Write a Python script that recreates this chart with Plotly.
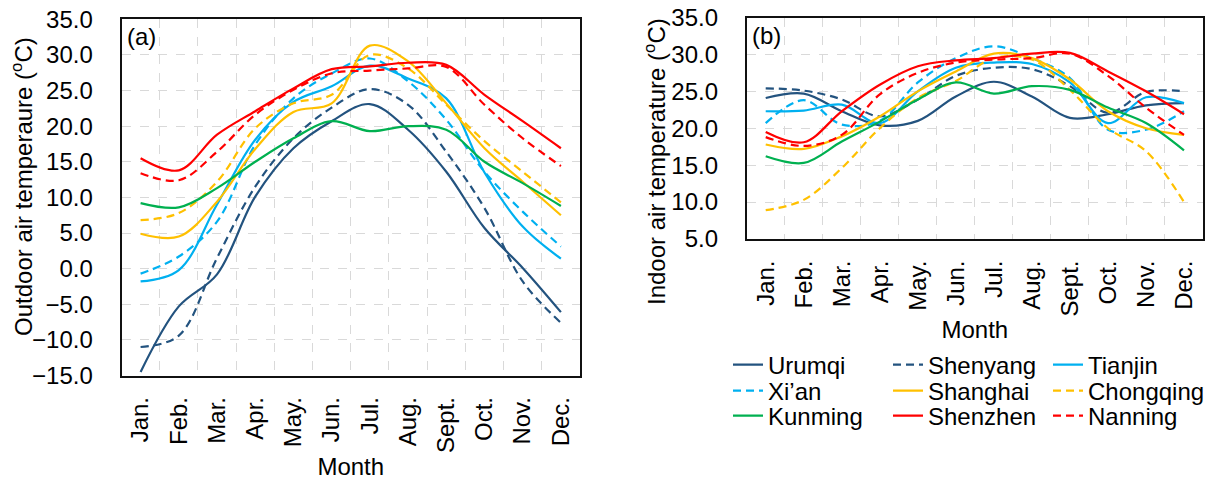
import plotly.graph_objects as go

months = ["Jan.", "Feb.", "Mar.", "Apr.", "May.", "Jun.", "Jul.", "Aug.", "Sept.", "Oct.", "Nov.", "Dec."]
cities = ["Urumqi", "Shenyang", "Tianjin", "Xi\u2019an", "Shanghai", "Chongqing", "Kunming", "Shenzhen", "Nanning"]

# (a) Outdoor air temperature
out_urumqi    = [-14.5, -5.3, -0.8, 10.1, 16.9, 20.7, 23.1, 19.5, 13.6, 5.7, 0.1, -6.1]
out_shenyang  = [-11.0, -9.4, 1.5, 11.5, 18.3, 22.6, 25.2, 23.0, 16.4, 8.5, -1.8, -7.6]
out_tianjin   = [-1.8, -0.2, 9.0, 18.1, 23.4, 25.6, 28.5, 26.7, 23.9, 13.5, 5.9, 1.4]
out_xian      = [-0.7, 1.7, 6.6, 17.4, 23.9, 27.4, 29.5, 26.3, 20.9, 13.6, 8.0, 3.1]
out_shanghai  = [4.9, 4.5, 9.4, 16.8, 22.0, 23.2, 31.3, 29.1, 23.2, 16.9, 12.2, 7.5]
out_chongqing = [6.8, 7.8, 12.2, 19.7, 23.2, 24.4, 30.0, 28.1, 23.0, 17.9, 13.6, 9.3]
out_kunming   = [9.2, 8.6, 11.3, 15.0, 18.3, 20.7, 19.3, 20.0, 19.5, 15.0, 12.0, 8.8]
out_shenzhen  = [15.5, 13.8, 18.8, 22.1, 25.3, 28.0, 28.4, 28.9, 28.6, 24.4, 20.7, 16.9]
out_nanning   = [13.4, 12.4, 16.4, 21.6, 25.1, 27.4, 27.8, 28.1, 28.3, 23.0, 18.3, 14.4]

# (b) Indoor air temperature
in_urumqi    = [24.1, 24.7, 22.3, 20.4, 21.0, 24.3, 26.3, 24.3, 21.4, 21.9, 23.1, 23.4]
in_shenyang  = [25.4, 25.1, 23.9, 21.6, 23.9, 27.1, 28.2, 28.0, 25.7, 22.1, 24.9, 25.0]
in_tianjin   = [22.3, 22.4, 23.2, 20.7, 25.0, 28.2, 28.9, 28.7, 26.2, 20.7, 24.2, 23.4]
in_xian      = [20.7, 23.8, 20.5, 21.0, 26.2, 29.5, 31.1, 29.5, 26.8, 19.8, 19.8, 22.3]
in_shanghai  = [17.8, 17.2, 18.9, 21.6, 25.0, 27.7, 30.1, 29.5, 26.6, 22.3, 20.0, 19.1]
in_chongqing = [8.9, 10.3, 14.6, 20.0, 24.1, 26.4, 29.5, 29.3, 25.2, 20.0, 16.9, 10.0]
in_kunming   = [16.2, 15.3, 18.2, 20.9, 23.9, 26.2, 24.7, 25.7, 25.2, 22.8, 20.7, 17.0]
in_shenzhen  = [19.5, 18.1, 22.3, 25.9, 28.4, 29.2, 29.5, 30.1, 30.2, 27.7, 25.0, 21.9]
in_nanning   = [18.8, 17.6, 19.1, 24.6, 27.5, 28.9, 29.3, 29.5, 30.1, 27.1, 22.8, 19.1]

outdoor = [out_urumqi, out_shenyang, out_tianjin, out_xian, out_shanghai,
           out_chongqing, out_kunming, out_shenzhen, out_nanning]
indoor = [in_urumqi, in_shenyang, in_tianjin, in_xian, in_shanghai,
          in_chongqing, in_kunming, in_shenzhen, in_nanning]

colors = ["#23537F", "#23537F", "#00B0F0", "#00B0F0", "#FFC000",
          "#FFC000", "#00B050", "#FF0000", "#FF0000"]
dashes = ["solid", "8px,5px", "solid", "8px,5px", "solid",
          "8px,5px", "solid", "solid", "8px,5px"]

FONT = "Liberation Sans, Arial, sans-serif"
FS = 24
W, H = 1215, 483

fig = go.Figure()

legend_cols = [728, 888, 1048]
legend_rows = [365, 391, 416]

for i, name in enumerate(cities):
    lg = "legend" if i == 0 else f"legend{i + 1}"
    line = dict(color=colors[i], width=2.2, dash=dashes[i], shape="spline", smoothing=1)
    fig.add_trace(go.Scatter(x=months, y=outdoor[i], mode="lines", name=name, line=line,
                             xaxis="x", yaxis="y", showlegend=False))
    fig.add_trace(go.Scatter(x=months, y=indoor[i], mode="lines", name=name, line=line,
                             xaxis="x2", yaxis="y2", showlegend=True, legend=lg))

# legends: one per entry so that the 3x3 grid spacing matches
for i in range(len(cities)):
    key = "legend" if i == 0 else f"legend{i + 1}"
    row, col = divmod(i, 3)
    fig.update_layout(**{key: dict(
        x=legend_cols[col] / W, y=1 - legend_rows[row] / H,
        xanchor="left", yanchor="middle",
        bgcolor="rgba(0,0,0,0)", borderwidth=0,
        font=dict(family=FONT, size=FS, color="black"),
        itemwidth=30,
    )})

grid = dict(showgrid=True, gridcolor="#D9D9D9", gridwidth=1, griddash="dash")
border = dict(showline=True, linecolor="#111111", linewidth=1.8, mirror=True)
tickfont = dict(family=FONT, size=FS, color="black")

def xax(domain, anchor):
    return dict(domain=domain, anchor=anchor, type="category", tickson="boundaries",
                range=[-0.5, len(months) - 0.5],
                tickangle=-90, ticks="", tickfont=tickfont, ticklabelstandoff=10,
                title=dict(text="Month", font=dict(family=FONT, size=FS, color="black"), standoff=6),
                automargin=False, zeroline=False, **grid, **border)

def yax(domain, anchor, rng):
    return dict(domain=domain, anchor=anchor, range=rng, dtick=5, tick0=0, tickformat=".1f",
                ticks="", tickfont=tickfont, ticklabelstandoff=22,
                automargin=False, zeroline=False, **grid, **border)

def ytitle(text, xc, yc):
    return dict(text=text, xref="paper", yref="paper", x=xc / W, y=1 - yc / H,
                xanchor="center", yanchor="middle", textangle=-90, showarrow=False,
                font=dict(family=FONT, size=FS, color="black"))

fig.update_layout(
    width=W, height=H,
    margin=dict(l=0, r=0, t=0, b=0),
    paper_bgcolor="white", plot_bgcolor="white",
    font=dict(family=FONT, size=FS, color="black"),
    xaxis=xax([121.5 / W, 580 / W], "y"),
    yaxis=yax([1 - 375.5 / H, 1 - 19.3 / H], "x", [-15, 35]),
    xaxis2=xax([746.7 / W, 1203 / W], "y2"),
    yaxis2=yax([1 - 239 / H, 1 - 17.5 / H], "x2", [5, 35]),
    annotations=[
        dict(text="(a)", xref="x domain", yref="y domain", x=0.008, y=0.995,
             xanchor="left", yanchor="top", showarrow=False,
             font=dict(family=FONT, size=FS, color="black")),
        dict(text="(b)", xref="x2 domain", yref="y2 domain", x=0.008, y=0.99,
             xanchor="left", yanchor="top", showarrow=False,
             font=dict(family=FONT, size=FS, color="black")),
        ytitle("Outdoor air temperaure (<sup>o</sup>C)", 22, 187),
        ytitle("Indoor air temperature (<sup>o</sup>C)", 655, 162),
    ],
)

fig.write_html("out.html")
